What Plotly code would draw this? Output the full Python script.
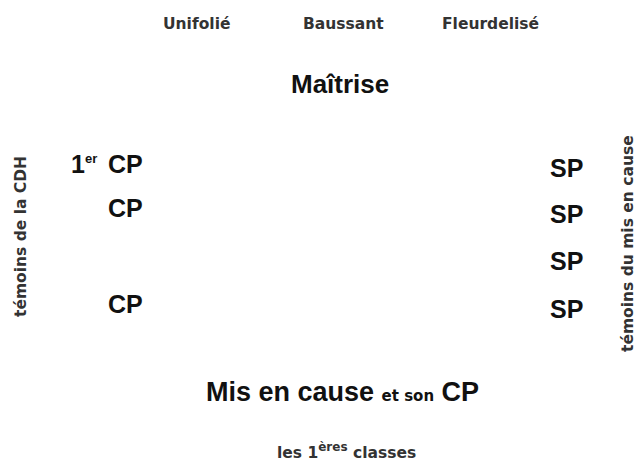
import plotly.graph_objects as go

# ---- content ----
top_labels = ["Unifolié", "Baussant", "Fleurdelisé"]
title_label = "Maîtrise"
left_first_prefix = "1"
left_first_sup = "er"
left_labels = ["CP", "CP", "CP"]
right_labels = ["SP", "SP", "SP", "SP"]
left_side_label = "témoins de la CDH"
right_side_label = "témoins du mis en cause"
bottom_main = "Mis en cause"
bottom_small = "et son"
bottom_cp = "CP"
footer_pre = "les 1"
footer_sup = "ères"
footer_post = "classes"

# ---- layout positions (pixel-like coordinates) ----
top_x = [196, 343, 490]
top_y = 24
left_x = 145
left_y = [164, 208, 304]
right_x = 566
right_y = [168, 214, 261, 309]

BIG = "Liberation Sans, Arial, sans-serif"
SMALL = "DejaVu Sans, Verdana, sans-serif"
ann = []

for lab, x in zip(top_labels, top_x):
    ann.append(dict(x=x, y=top_y, text=f"<b>{lab}</b>",
                    font=dict(size=15.5, color="#333333", family=SMALL)))

ann.append(dict(x=340, y=84, text=f"<b>{title_label}</b>",
                font=dict(size=26, color="#111", family=BIG)))

for i, (lab, y) in enumerate(zip(left_labels, left_y)):
    ann.append(dict(x=left_x, y=y, text=f"<b>{lab}</b>", xanchor="right",
                    font=dict(size=25, color="#111", family=BIG)))
    if i == 0:
        ann.append(dict(x=left_x - 46, y=y, xanchor="right",
                        text=(f"<b>{left_first_prefix}<sup><span style='font-size:13px'>"
                              f"{left_first_sup}</span></sup></b>"),
                        font=dict(size=25, color="#111", family=BIG)))

for lab, y in zip(right_labels, right_y):
    ann.append(dict(x=right_x, y=y, text=f"<b>{lab}</b>",
                    font=dict(size=25, color="#111", family=BIG)))

ann.append(dict(x=21, y=237, text=f"<b>{left_side_label}</b>", textangle=-90,
                font=dict(size=15.5, color="#333333", family=SMALL)))
ann.append(dict(x=628, y=244, text=f"<b>{right_side_label}</b>", textangle=-90,
                font=dict(size=15.5, color="#333333", family=SMALL)))

ann.append(dict(x=342, y=392,
                text=(f"<b>{bottom_main}</b> "
                      f"<span style='font-family:DejaVu Sans;font-size:15px;font-weight:bold'>{bottom_small}</span>"
                      f" <b>{bottom_cp}</b>"),
                font=dict(size=27, color="#111", family=BIG)))

ann.append(dict(x=346, y=451,
                text=(f"<b>{footer_pre}<sup><span style='font-size:12px'>{footer_sup}</span></sup> "
                      f"{footer_post}</b>"),
                font=dict(size=15.5, color="#333333", family=SMALL)))

for a in ann:
    a.setdefault("xanchor", "center")
    a.update(xref="x", yref="y", showarrow=False, yanchor="middle")

fig = go.Figure()
fig.add_trace(go.Scatter(x=[], y=[]))
fig.update_layout(
    width=643, height=462,
    margin=dict(l=0, r=0, t=0, b=0),
    paper_bgcolor="white", plot_bgcolor="white",
    xaxis=dict(range=[0, 643], visible=False, fixedrange=True),
    yaxis=dict(range=[462, 0], visible=False, fixedrange=True),
    showlegend=False,
    annotations=ann,
)
fig.write_html("out.html", config={"displayModeBar": False},
               post_script="document.body.style.margin='0';document.body.style.padding='0';")
